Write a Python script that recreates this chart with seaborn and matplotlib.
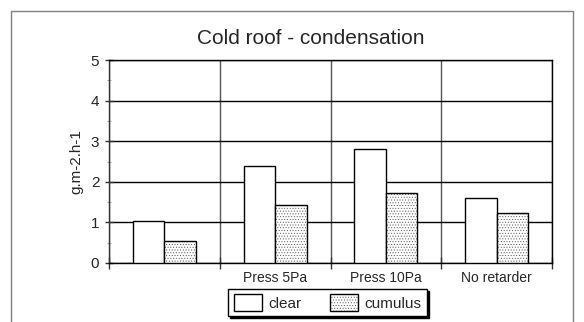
import pandas as pd
import numpy as np
from matplotlib import pyplot as plt
from matplotlib.patches import Patch, Rectangle
from matplotlib.ticker import MultipleLocator, FixedLocator
import seaborn as sns

sns.set_style("white")
plt.rcParams['font.family'] = ['Liberation Sans', 'DejaVu Sans']
plt.rcParams['hatch.linewidth'] = 0.4

# data
cases = ["", "Press 5Pa", "Press 10Pa", "No retarder"]
clear = [1.04, 2.39, 2.82, 1.59]
cumulus = [0.55, 1.42, 1.72, 1.22]
sky_labels = ["clear", "cumulus"]

df = pd.DataFrame({
    "case": cases * 2,
    "value": clear + cumulus,
    "sky": [sky_labels[0]] * len(cases) + [sky_labels[1]] * len(cases),
})

fig = plt.figure(figsize=(5.84, 3.22), dpi=100)
ax = fig.add_axes([109 / 584, 1 - 263 / 322, (552 - 109) / 584, (263 - 60) / 322])

sns.barplot(data=df, x="case", y="value", hue="sky", order=cases,
            hue_order=sky_labels, palette=["white", "white"],
            edgecolor="black", linewidth=1, width=0.57, dodge=True,
            legend=False, ax=ax, zorder=3)

dot_grey = (0.35, 0.35, 0.35, 1)
for p in ax.containers[1]:
    p.set_hatch("......")
    p._hatch_color = dot_grey

ax.set_xlim(-0.5, 3.5)
ax.set_ylim(0, 5)
ax.yaxis.set_major_locator(MultipleLocator(1))
ax.yaxis.set_minor_locator(MultipleLocator(0.5))
ax.xaxis.set_minor_locator(FixedLocator([-0.5, 0.5, 1.5, 2.5, 3.5]))

ax.grid(axis="y", which="major", color="black", lw=1, zorder=0)
ax.grid(axis="x", which="minor", color="#555555", lw=1, zorder=0)
for s in ["left", "bottom", "right", "top"]:
    ax.spines[s].set_visible(True)
    ax.spines[s].set_color("black")
    ax.spines[s].set_linewidth(1)
ax.spines["left"].set_color("#333333")

ax.tick_params(axis="y", which="major", length=6, width=1, color="#333333",
               direction="inout", labelsize=11, pad=4, left=True)
ax.tick_params(axis="y", which="minor", length=3, width=0.8, color="#aaaaaa",
               direction="inout", left=True)
ax.tick_params(axis="x", which="major", length=0, labelsize=10, pad=6)
ax.tick_params(axis="x", which="minor", length=8, width=1, direction="inout",
               color="#333333", bottom=True)

ax.set_xlabel("")
ax.set_ylabel("g.m-2.h-1", fontsize=11, labelpad=5)

fig.text(311 / 584, 1 - 38 / 322, "Cold roof - condensation", ha="center",
         va="center", fontsize=15)

handles = [Patch(facecolor="white", edgecolor="black", lw=1),
           Patch(facecolor="white", edgecolor="black", lw=1, hatch="......")]
handles[1]._hatch_color = dot_grey
leg = fig.legend(handles, sky_labels, loc="upper center",
                 bbox_to_anchor=(327.5 / 584, 1 - 289 / 322), ncol=2,
                 fontsize=11, frameon=True, fancybox=False,
                 shadow={"ox": 1.5, "oy": -1.5, "color": "black", "alpha": 1},
                 edgecolor="black", handlelength=1.85, handleheight=1.25,
                 handletextpad=0.4, columnspacing=1.9, borderpad=0.35,
                 borderaxespad=0)
leg.get_frame().set_linewidth(1)

# outer frame of the chart area
fig.patches.append(Rectangle((11 / 584, -0.1), (573 - 11) / 584, 0.1 + 1 - 11 / 322,
                             transform=fig.transFigure, fill=False,
                             edgecolor="#808080", lw=1))

fig.savefig("out.png", dpi=100)
